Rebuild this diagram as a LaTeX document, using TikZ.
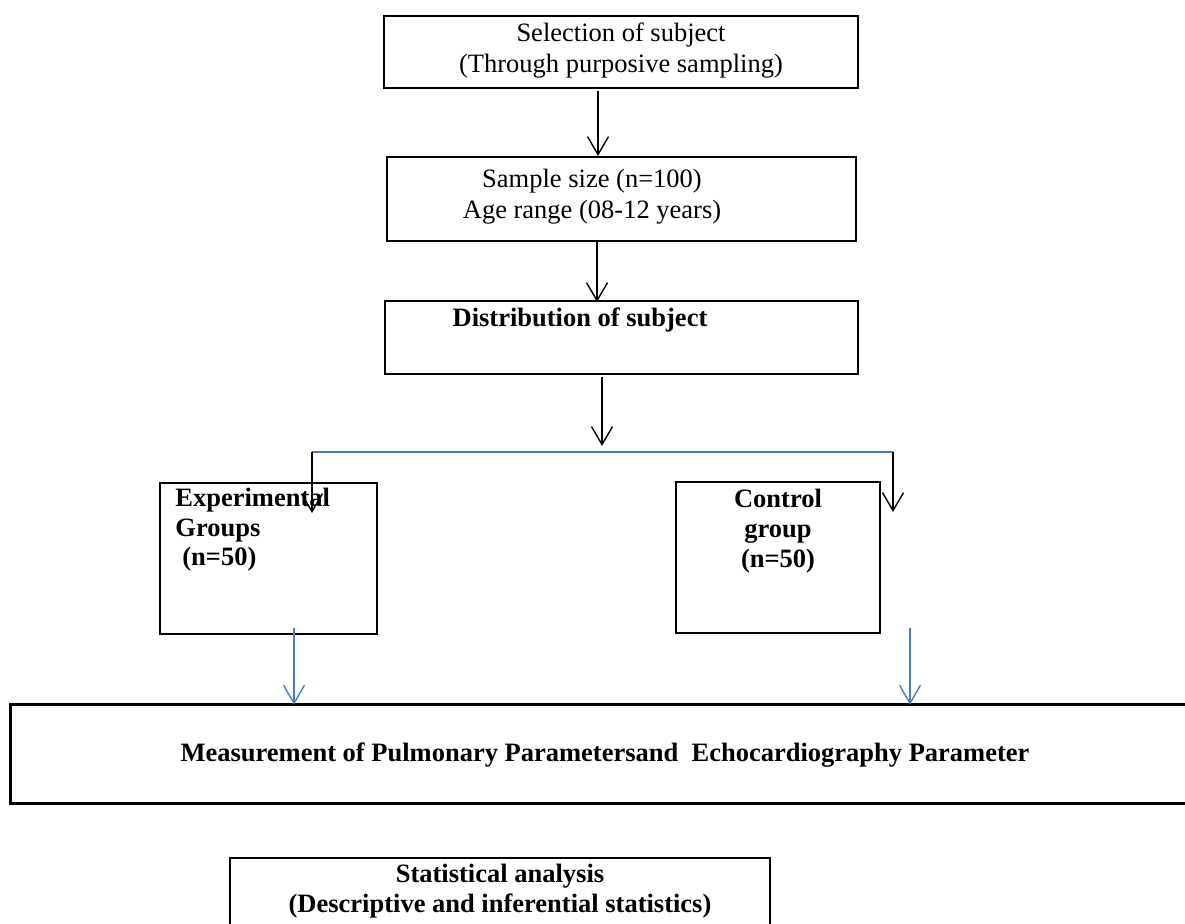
\documentclass[tikz,border=0pt]{standalone}
\usepackage{fontspec}
\setmainfont{Liberation Serif}
\usetikzlibrary{arrows.meta,fit}
\definecolor{lineblue}{HTML}{4A7EBB}
\begin{document}
\begin{tikzpicture}[x=0.5pt,y=-0.5pt,
  box/.style={draw=black,line width=1pt,inner sep=0pt,rectangle},
  frame/.style={inner sep=0pt,rectangle},
  txt/.style={anchor=base,inner sep=0pt,font={\fontsize{13.25}{15}\selectfont}},
  btxt/.style={anchor=base,inner sep=0pt,font={\fontsize{13.25}{15}\selectfont\bfseries}},
  btxtl/.style={anchor=base west,inner sep=0pt,font={\fontsize{13.25}{15}\selectfont\bfseries}},
  arr/.style={line width=0.7pt,-{Straight Barb[length=9pt,width=10.5pt,line width=0.7pt]}},
  barr/.style={arr,draw=lineblue},
]
\useasboundingbox (0,0) rectangle (1185,924);
\fill[white] (0,0) rectangle (1185,924);

% boxes
\node[box,fit={(384,16) (858,88)}] (b1) {};
\node[box,fit={(387,157) (856,241)}] (b2) {};
\node[box,fit={(385,301) (858,374)}] (b3) {};
\node[box,fit={(160,483) (377,634)}] (b4) {};
\node[box,fit={(676,482) (880,633)}] (b5) {};
\node[frame,fit={(11,705) (1185,803)}] (b6) {};
\draw[line width=1.2pt] (b6.north east) -- (b6.north west) -- (b6.south west) -- (b6.south east);
\node[frame,fit={(230,858) (770,924)}] (b7) {};
\draw[line width=1pt] (b7.south west) -- (b7.north west) -- (b7.north east) -- (b7.south east);

% texts
\node[txt] (t1a) at (621,42) {Selection of subject};
\node[txt] (t1b) at (621,73) {(Through purposive sampling)};
\node[txt] (t2a) at (592,188) {Sample size (n=100)};
\node[txt] (t2b) at (592,219) {Age range (08-12 years)};
\node[btxt] (t3) at (580,327) {Distribution of subject};
\node[btxtl] (t4a) at (175,507) {Experimental};
\node[btxtl] (t4b) at (175,537) {Groups};
\node[btxtl] (t4c) at (182,566) {(n=50)};
\node[btxt] (t5a) at (778,508) {Control};
\node[btxt] (t5b) at (778,538) {group};
\node[btxt] (t5c) at (778,568) {(n=50)};
\node[btxt] (t6) at (605,762) {Measurement of Pulmonary Parametersand~ Echocardiography Parameter};
\node[btxt] (t7a) at (500,883) {Statistical analysis};
\node[btxt] (t7b) at (500,913) {(Descriptive and inferential statistics)};

% connector coordinates
\coordinate (c1) at (598,91);
\coordinate (c2) at (597,0);
\coordinate (c3) at (602,377);
\coordinate (hub) at (602,446);
\coordinate (hl) at (312,452);
\coordinate (hr) at (893,452);
\coordinate (el) at (312,513);
\coordinate (er) at (893,512);
\coordinate (bl) at (294,628);
\coordinate (br) at (910,628);

% connectors
\draw[arr] (c1) -- (c1 |- b2.north);
\draw[arr] (c2 |- b2.south) -- ([yshift=-1pt]c2 |- b3.north);
\draw[arr] (c3) -- (hub);
\draw[lineblue,line width=0.8pt] (hl) -- (hr);
\draw[arr] (hl) -- (el);
\draw[arr] (hr) -- (er);
\draw[barr] (bl) -- (bl |- b6.north);
\draw[barr] (br) -- (br |- b6.north);
\end{tikzpicture}
\end{document}
